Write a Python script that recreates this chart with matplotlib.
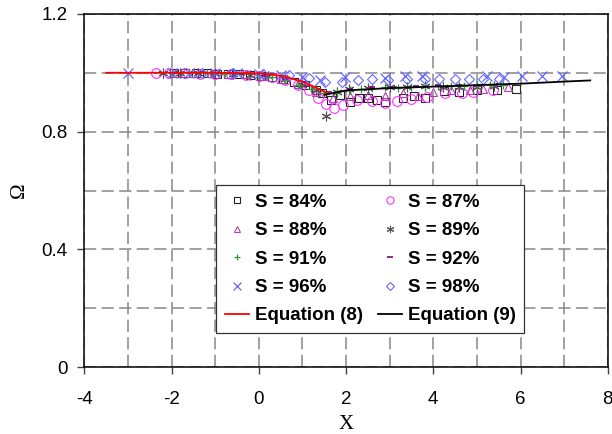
import numpy as np
import matplotlib.pyplot as plt
from matplotlib.ticker import MultipleLocator

# measured Omega vs X for each saturation
x84 = [-1.95, -1.7, -1.45, -1.2, -0.95, -0.7, -0.45, -0.2, 0.05, 0.3, 0.55, 0.8, 1.05, 1.3, 1.45, 1.65,
       1.85, 2.1, 2.3, 2.5, 2.7, 2.9, 3.3, 3.55, 3.8, 4.25, 4.6, 5.0, 5.45, 5.9]
y84 = [1.0, 1.0, 0.998, 0.998, 0.997, 0.996, 0.995, 0.994, 0.99, 0.985, 0.978, 0.97, 0.958, 0.94, 0.93, 0.908,
       0.925, 0.902, 0.915, 0.914, 0.908, 0.902, 0.915, 0.92, 0.914, 0.937, 0.934, 0.94, 0.94, 0.944]

x87 = [-2.35, -2.05, -1.7, -1.35, -1.0, -0.65, -0.3, 0.0, 0.3, 0.6, 0.9, 1.15, 1.35, 1.55, 1.72, 1.94,
       2.25, 2.6, 2.9, 3.16, 3.5, 3.85, 4.27, 4.65, 4.92, 5.38]
y87 = [1.0, 1.0, 0.998, 0.997, 0.997, 0.995, 0.993, 0.99, 0.985, 0.975, 0.96, 0.94, 0.914, 0.895, 0.88, 0.891,
       0.908, 0.905, 0.897, 0.905, 0.912, 0.919, 0.931, 0.931, 0.935, 0.942]

x88 = [-1.9, -1.5, -1.1, -0.7, -0.3, 0.1, 0.5, 0.9, 1.3, 1.7, 2.1, 2.5, 2.9, 3.3, 3.66, 4.0, 4.4, 4.85, 5.15, 5.72]
y88 = [1.0, 0.999, 0.998, 0.997, 0.995, 0.99, 0.98, 0.962, 0.935, 0.915, 0.92, 0.925, 0.92, 0.93, 0.92, 0.935,
       0.94, 0.943, 0.945, 0.951]

x89 = [-2.2, -1.8, -1.4, -1.0, -0.6, -0.2, 0.2, 0.6, 1.0, 1.3, 1.54, 1.8, 2.06, 2.5, 3.0, 3.4, 3.8, 4.23, 4.6, 5.0, 5.4]
y89 = [1.0, 1.0, 0.999, 0.998, 0.996, 0.994, 0.99, 0.98, 0.96, 0.94, 0.852, 0.935, 0.945, 0.948, 0.952, 0.95,
       0.955, 0.95, 0.952, 0.953, 0.955]

x91 = [-2.0, -1.6, -1.2, -0.8, -0.4, 0.0, 0.3, 0.6, 0.9, 1.2, 1.5, 1.8, 2.1, 2.35, 2.6, 2.9, 3.2, 3.5, 3.8,
       4.1, 4.4, 4.7, 5.0, 5.3, 5.6]
y91 = [1.0, 0.999, 0.998, 0.997, 0.995, 0.992, 0.985, 0.975, 0.96, 0.945, 0.93, 0.935, 0.94, 0.945, 0.948,
       0.95, 0.948, 0.952, 0.953, 0.955, 0.955, 0.956, 0.958, 0.958, 0.96]

x92 = [-1.9, -1.4, -0.9, -0.4, 0.1, 0.6, 1.1, 1.6, 2.1, 2.6, 3.1, 3.6, 4.1, 4.6, 5.1, 5.5]
y92 = [1.0, 0.999, 0.998, 0.996, 0.99, 0.978, 0.955, 0.935, 0.945, 0.95, 0.953, 0.955, 0.957, 0.958, 0.96, 0.962]

x96 = [-3.0, -2.0, -1.6, -1.0, -0.5, 0.0, 0.5, 1.0, 1.4, 1.98, 2.9, 3.36, 3.74, 5.23, 5.61, 6.03, 6.49, 6.95]
y96 = [1.0, 1.0, 1.0, 0.999, 0.998, 0.996, 0.993, 0.985, 0.975, 0.985, 0.982, 0.99, 0.99, 0.99, 0.987, 0.99,
       0.99, 0.99]

x98 = [-1.3, -0.6, 0.1, 0.68, 1.14, 1.52, 1.9, 2.28, 2.59, 2.97, 3.4, 3.81, 4.12, 4.5, 4.81, 5.15, 5.5]
y98 = [1.0, 0.998, 0.995, 0.993, 0.982, 0.967, 0.967, 0.974, 0.978, 0.976, 0.978, 0.98, 0.978, 0.98, 0.978,
       0.978, 0.98]

# model curves
xeq8 = [-3.5, -2.0, -1.0, 0.0, 0.5, 1.0, 1.3, 1.6]
yeq8 = [1.0, 1.0, 1.0, 0.998, 0.99, 0.97, 0.95, 0.928]
xeq9 = [1.5, 2.0, 3.0, 4.0, 5.0, 6.0, 7.0, 7.6]
yeq9 = [0.925, 0.94, 0.948, 0.953, 0.958, 0.963, 0.97, 0.974]

plt.rcParams['font.family'] = ['Liberation Sans', 'DejaVu Sans']
plt.rcParams['axes.unicode_minus'] = False

fig = plt.figure(figsize=(6.12, 4.34), dpi=100)
ax = fig.add_axes([0.138, 0.154, 0.855, 0.814])

ms = 6
h84, = ax.plot(x84, y84, 's', mfc='none', mec='#222222', ms=ms, mew=0.8, label='S = 84%')
h87, = ax.plot(x87, y87, 'o', mfc='none', mec='#ff33ff', ms=ms + 1, mew=0.8, label='S = 87%')
h88, = ax.plot(x88, y88, '^', mfc='none', mec='#b040b0', ms=ms, mew=0.8, label='S = 88%')
h89, = ax.plot(x89, y89, marker=(6, 2, 0), ls='none', color='#555555', ms=ms + 1, mew=0.8, label='S = 89%')
h91, = ax.plot(x91, y91, '+', color='#339933', ms=ms, mew=0.9, label='S = 91%')
h92, = ax.plot(x92, y92, '_', color='#800080', ms=ms - 1, mew=1.2, label='S = 92%')
h96, = ax.plot(x96, y96, 'x', color='#6666ff', ms=ms + 1, mew=0.9, label='S = 96%')
h98, = ax.plot(x98, y98, 'D', mfc='none', mec='#6666ff', ms=ms - 0.5, mew=0.8, label='S = 98%')
he8, = ax.plot(xeq8, yeq8, '-', color='red', lw=1.3, label='Equation (8)')
he9, = ax.plot(xeq9, yeq9, '-', color='black', lw=1.3, label='Equation (9)')

ax.set_xlim(-4, 8)
ax.set_ylim(0, 1.2)
ax.xaxis.set_major_locator(MultipleLocator(2))
ax.xaxis.set_minor_locator(MultipleLocator(1))
ax.yaxis.set_major_locator(MultipleLocator(0.4))
ax.yaxis.set_minor_locator(MultipleLocator(0.2))
ax.yaxis.set_major_formatter(plt.FuncFormatter(lambda v, p: '0' if v == 0 else '%.1f' % v))
ax.tick_params(which='major', direction='out', length=5, width=1, labelsize=13.5, color='#444444')
ax.tick_params(axis='x', pad=12)
ax.tick_params(axis='y', pad=7)
ax.tick_params(which='minor', length=0)
ax.grid(which='both', color='#888888', linestyle=(0, (8, 3.5)), linewidth=1.1)
ax.set_axisbelow(True)
for s in ax.spines.values():
    s.set_linewidth(1.1)

ax.set_xlabel('X', family='Liberation Serif', fontsize=15, labelpad=5)
ax.set_ylabel('Ω', family='Liberation Serif', fontsize=15, rotation=90, labelpad=9)

# row-wise order in a two column legend
handles = [h84, h88, h91, h96, he8, h87, h89, h92, h98, he9]
leg = ax.legend(handles=handles, labels=[h.get_label() for h in handles], ncol=2,
                loc='lower left', bbox_to_anchor=(0.252, 0.097), fancybox=False,
                framealpha=1, edgecolor='#333333', prop={'weight': 'bold', 'size': 13.5},
                handlelength=1.3, handletextpad=0.3, columnspacing=0.8, labelspacing=0.6,
                borderpad=0.45, borderaxespad=0, markerscale=0.75)
leg.get_frame().set_linewidth(0.9)

fig.savefig('out.png', dpi=100)
